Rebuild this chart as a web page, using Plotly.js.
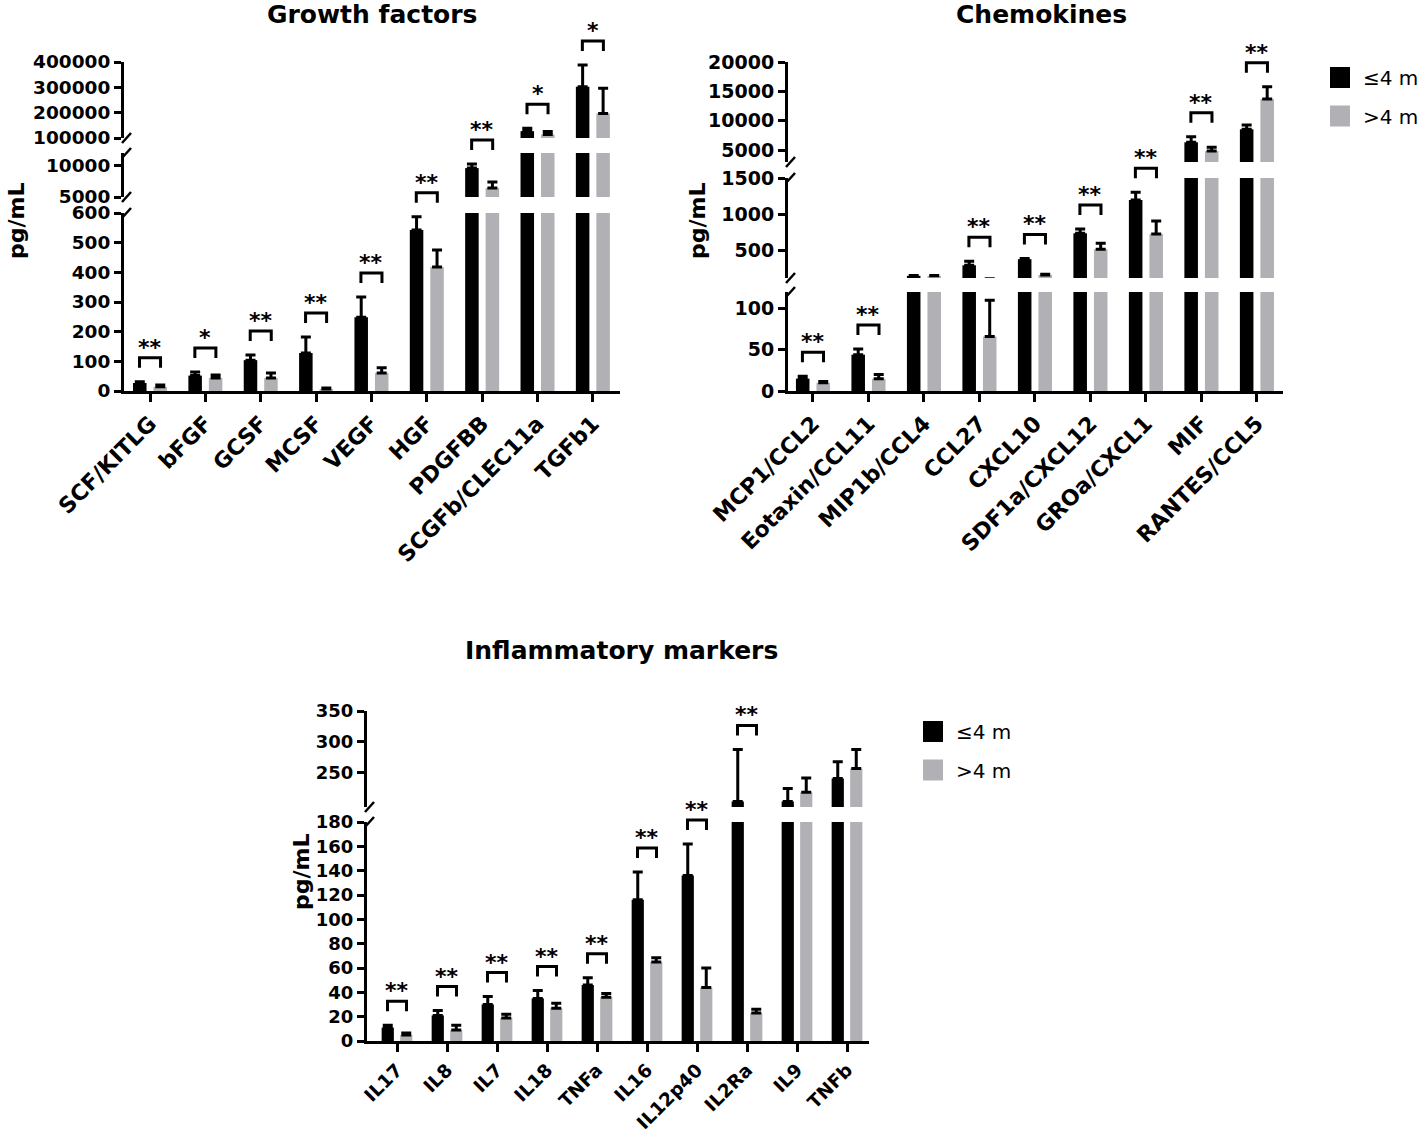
<!DOCTYPE html>
<html><head><meta charset="utf-8">
<script src="https://cdn.plot.ly/plotly-3.0.1.min.js"></script>
<style>html,body{margin:0;padding:0;background:#fff}#chart{width:1418px;height:1136px}</style>
</head><body><div id="chart"></div>
<script>
// ---------------- data ----------------
const seriesNames = ['\u22644 m', '>4 m'];

const gfCategories = ['SCF/KITLG','bFGF','GCSF','MCSF','VEGF','HGF','PDGFBB','SCGFb/CLEC11a','TGFb1'];
const gfLow     = [27, 52, 104, 128, 249, 543, 9600, 127000, 302000];
const gfLowErr  = [4, 12, 17, 54, 68, 44, 650, 11000, 86000];
const gfHigh    = [14, 44, 44, 7, 61, 418, 6430, 114000, 197000];
const gfHighErr = [6, 10, 17, 3, 17, 57, 970, 12000, 99000];
const gfSig     = ['**','*','**','**','**','**','**','*','*'];

const chCategories = ['MCP1/CCL2','Eotaxin/CCL11','MIP1b/CCL4','CCL27','CXCL10','SDF1a/CXCL12','GROa/CXCL1','MIF','RANTES/CCL5'];
const chLow     = [15, 44, 150, 295, 380, 737, 1197, 6350, 8560];
const chLowErr  = [3, 7, 6, 55, 10, 60, 106, 950, 730];
const chHigh    = [10, 15, 150, 66, 163, 516, 728, 4870, 13710];
const chHighErr = [1.5, 5, 6, 44, 8, 83, 179, 630, 2090];
const chSig     = ['**','**','','**','**','**','**','**','**'];

const inCategories = ['IL17','IL8','IL7','IL18','TNFa','IL16','IL12p40','IL2Ra','IL9','TNFb'];
const inLow     = [11, 21, 30, 35, 46, 116, 136, 204, 204, 241];
const inLowErr  = [2, 4, 6.5, 6.5, 6, 23, 26, 84, 21, 27];
const inHigh    = [5, 9, 19, 27, 36, 65, 44, 23, 219, 257];
const inHighErr = [1.5, 4, 3, 4, 3, 3.5, 16, 3, 23, 31];
const inSig     = ['**','**','**','**','**','**','**','**','',''];

// ---------------- layout helpers ----------------
const W = 1418, H = 1136;
const FONT = 'DejaVu Sans, Liberation Sans, Arial, sans-serif';
const BLACK = '#000000', GRAY = '#b1b1b5';
const PX = x => x / W;
const PY = y => 1 - y / H;

const panels = [
  {title:'Growth factors', titleX:372, titleY:14, ytX:16, ytY:221, xid:'x', x0:124, x1:620, xrange:[-0.47,8.49],
   cats:gfCategories, low:gfLow, lowErr:gfLowErr, high:gfHigh, highErr:gfHighErr, sig:gfSig, xfont:22, yfont:18.5,
   segs:[{id:'y', range:[0,600], top:213, bottom:391, dtick:100},
         {id:'y2', range:[5000,12000], top:153, bottom:197, tickvals:[5000,10000]},
         {id:'y3', range:[100000,400000], top:62, bottom:138, dtick:100000}]},
  {title:'Chemokines', titleX:1041, titleY:14, ytX:697, ytY:221, xid:'x2', x0:788, x1:1283, xrange:[-0.45,8.47],
   cats:chCategories, low:chLow, lowErr:chLowErr, high:chHigh, highErr:chHighErr, sig:chSig, xfont:22, yfont:19,
   legend:{x:1330, y:67},
   segs:[{id:'y4', range:[0,120], top:292, bottom:391, tickvals:[0,50,100]},
         {id:'y5', range:[120,1500], top:178, bottom:278, tickvals:[500,1000,1500]},
         {id:'y6', range:[3000,20000], top:62, bottom:162, tickvals:[5000,10000,15000,20000]}]},
  {title:'Inflammatory markers', titleX:621, titleY:650, ytX:301, ytY:872, xid:'x3', x0:367, x1:869, xrange:[-0.6,9.44],
   cats:inCategories, low:inLow, lowErr:inLowErr, high:inHigh, highErr:inHighErr, sig:inSig, xfont:18.5, yfont:18,
   legend:{x:923, y:721},
   segs:[{id:'y7', range:[0,180], top:822, bottom:1041, dtick:20},
         {id:'y8', range:[195,350], top:711, bottom:807, tickvals:[250,300,350]}]}
];

const axKey = id => (id[0] === 'x' ? 'xaxis' : 'yaxis') + id.slice(1);

const traces = [];
const layout = {
  width: W, height: H, margin:{l:0,r:0,t:0,b:0},
  paper_bgcolor:'#fff', plot_bgcolor:'rgba(0,0,0,0)',
  showlegend:false, barmode:'group', bargap:0.26, bargroupgap:0.34,
  annotations:[], shapes:[]
};

panels.forEach(p => {
  const idx = p.cats.map((c, i) => i);
  const zeros = p.cats.map(() => 0);
  // x axis
  layout[axKey(p.xid)] = {
    domain:[PX(p.x0), PX(p.x1)], anchor:p.segs[0].id, range:p.xrange,
    tickmode:'array', tickvals:idx, ticktext:p.cats, tickangle:-45,
    showline:true, linewidth:3, linecolor:BLACK, ticks:'outside', ticklen:8, tickwidth:3, tickcolor:BLACK,
    tickfont:{family:FONT, size:p.xfont, color:BLACK, weight:'bold'},
    showgrid:false, zeroline:false, fixedrange:true
  };
  p.segs.forEach(s => {
    let tv = s.tickvals;
    if (!tv) { tv = []; for (let v = s.range[0]; v <= s.range[1] + 1e-9; v += s.dtick) tv.push(v); }
    layout[axKey(s.id)] = {
      domain:[PY(s.bottom), PY(s.top)], anchor:p.xid, range:s.range,
      tickmode:'array', tickvals:tv, ticktext:tv.map(v => String(v)),
      showline:true, linewidth:3, linecolor:BLACK, ticks:'outside', ticklen:7, tickwidth:3, tickcolor:BLACK,
      tickfont:{family:FONT, size:p.yfont, color:BLACK, weight:'bold'},
      showgrid:false, zeroline:false, fixedrange:true
    };

    [[p.low, p.lowErr, BLACK, seriesNames[0]], [p.high, p.highErr, GRAY, seriesNames[1]]].forEach(([vals, errs, col, nm]) => {
      traces.push({
        type:'bar', name:nm, x:idx, y:vals, xaxis:p.xid, yaxis:s.id,
        marker:{color:col, line:{width:0}},
        error_y:{type:'data', symmetric:false, array:errs, arrayminus:zeros, color:BLACK, thickness:3, width:5},
        hoverinfo:'skip', showlegend:false
      });
    });
  });

  // break marks on the y axis
  for (let k = 0; k < p.segs.length - 1; k++) {
    const lo = p.segs[k], up = p.segs[k+1];
    [lo.top, up.bottom].forEach(edge => {
      layout.shapes.push({type:'line', xref:'paper', yref:'paper',
        x0:PX(p.x0 - 2), y0:PY(edge + 5), x1:PX(p.x0 + 7), y1:PY(edge - 5),
        line:{color:BLACK, width:2.5}});
    });
  }

  // significance brackets and stars (positioned relative to the taller error bar, in that segment's axis)
  const segFor = v => { let r = p.segs[0]; p.segs.forEach(s => { if (v >= s.range[0]) r = s; }); return r; };
  const xf = v => (v - p.xrange[0]) / (p.xrange[1] - p.xrange[0]);
  p.cats.forEach((c, i) => {
    if (!p.sig[i]) return;
    const top = Math.max(p.low[i] + p.lowErr[i], p.high[i] + p.highErr[i]);
    const s = segFor(top);
    const yfrac = (top - s.range[0]) / (s.range[1] - s.range[0]);
    const a = xf(i - 0.19), b = xf(i + 0.19);
    layout.shapes.push({type:'path', xref:p.xid + ' domain', yref:s.id + ' domain', ysizemode:'pixel', yanchor:yfrac,
      path:`M${a},14 L${a},24 L${b},24 L${b},14`, line:{color:BLACK, width:3}, fillcolor:'rgba(0,0,0,0)'});
    layout.annotations.push({xref:p.xid, yref:s.id, x:i, y:top, yshift:20, yanchor:'bottom', xanchor:'center',
      text:p.sig[i], showarrow:false, font:{family:FONT, size:22, color:BLACK, weight:'bold'}});
  });

  // titles
  layout.annotations.push({xref:'paper', yref:'paper', x:PX(p.titleX), y:PY(p.titleY), xanchor:'center', yanchor:'middle',
    text:p.title, showarrow:false, font:{family:FONT, size:25, color:BLACK, weight:'bold'}});
  layout.annotations.push({xref:'paper', yref:'paper', x:PX(p.ytX), y:PY(p.ytY), xanchor:'center', yanchor:'middle',
    text:'pg/mL', textangle:-90, showarrow:false, font:{family:FONT, size:22, color:BLACK, weight:'bold'}});

  // legend
  if (p.legend) {
    [[BLACK, seriesNames[0]], [GRAY, seriesNames[1]]].forEach(([col, nm], j) => {
      const y0 = p.legend.y + j * 38.5;
      layout.shapes.push({type:'rect', xref:'paper', yref:'paper', x0:PX(p.legend.x), x1:PX(p.legend.x + 20),
        y0:PY(y0 + 21), y1:PY(y0), fillcolor:col, line:{width:0}});
      layout.annotations.push({xref:'paper', yref:'paper', x:PX(p.legend.x + 31), y:PY(y0 + 11), xanchor:'left', yanchor:'middle',
        text:nm, showarrow:false, font:{family:FONT, size:20, color:BLACK}});
    });
  }
});

Plotly.newPlot('chart', traces, layout, {staticPlot:true, displayModeBar:false});
</script>
</body></html>
